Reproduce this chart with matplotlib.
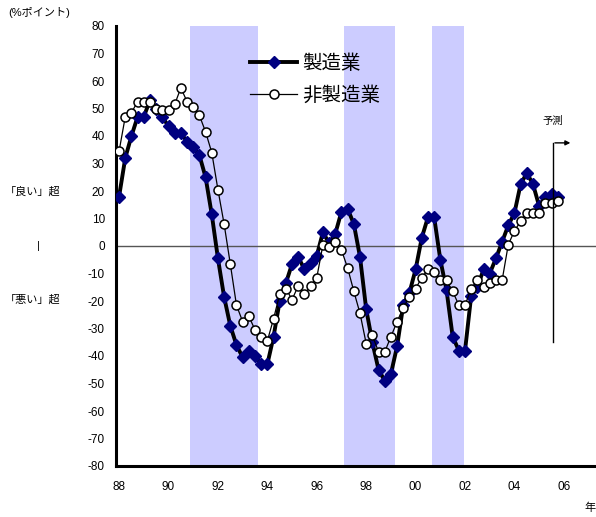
import matplotlib
matplotlib.use("Agg")
import matplotlib.pyplot as plt
import numpy as np

plt.rcParams['font.family'] = ['Liberation Sans', 'Noto Sans CJK JP', 'DejaVu Sans']
plt.rcParams['axes.unicode_minus'] = False

# Quarterly DI, 1988 Q1 onwards
manufacturing = [18, 32, 40, 47, 47, 53, 50, 47, 43.5, 41, 41, 38, 36, 33, 25, 11.5,
                 -4.5, -18.5, -29, -36, -40.5, -38, -40, -43, -43, -33, -20, -13.5,
                 -6.5, -4, -8.5, -6, -3.5, 5, 1, 4.5, 12.5, 13.5, 8, -4,
                 -23, -35, -45, -49, -46.5, -36.5, -21.5, -17, -8.5, 3, 10.5, 10.5,
                 -5, -16, -33, -38, -38, -18, -15, -8.5, -10, -4.5, 1.5, 7.5,
                 12, 22.5, 26.5, 22.5, 14.5, 18, 19, 18]
non_manufacturing = [34.5, 47, 48.5, 52.5, 52.5, 52.5, 50, 49.5, 49.5, 51.5, 57.5, 52.5,
                     50.5, 47.5, 41.5, 34, 20.5, 8, -6.5, -21.5, -27.5, -25.5, -30.5, -33,
                     -34.5, -26.5, -17.5, -15.5, -19.5, -14.5, -17.5, -14.5, -11.5, 0.5, -0.5, 1.5,
                     -1.5, -8, -16.5, -24.5, -35.5, -32.5, -38.5, -38.5, -33, -27.5, -22.5, -18.5,
                     -15.5, -11.5, -8.5, -9.5, -12.5, -12.5, -16.5, -21.5, -21.5, -15.5, -12.5, -15,
                     -13.5, -12.5, -12.5, 0.5, 5.5, 9, 12, 12, 12, 15.5, 15.5, 16.5]
series_names = ['製造業', '非製造業']
year_labels = ['88', '90', '92', '94', '96', '98', '00', '02', '04', '06']
recessions = [(11.5, 22.45), (36.4, 44.65), (50.6, 55.8)]  # quarter-index spans
forecast_at = 70.2

q = np.arange(len(manufacturing))

fig = plt.figure(figsize=(5.96, 5.17), dpi=100)
ax = fig.add_axes([116/596, 1-466/517, 1-116/596, 440/517])

for a, b in recessions:
    ax.axvspan(a, b, color='#CCCCFF', lw=0, zorder=0)

ax.axhline(0, color='#555555', lw=1, zorder=1)

ax.plot(q, manufacturing, color='black', lw=2.8, marker='D', markersize=6.5,
        markerfacecolor='#000080', markeredgecolor='#000080', label=series_names[0], zorder=3)
ax.plot(q, non_manufacturing, color='black', lw=0.9, marker='o', markersize=6.5,
        markerfacecolor='white', markeredgecolor='black', markeredgewidth=1.1,
        label=series_names[1], zorder=4)

ax.set_xlim(-0.5, 77.2)
ax.set_ylim(-80, 80)
ax.set_yticks(np.arange(-80, 81, 10))
ax.set_yticklabels([str(v) for v in range(-80, 81, 10)], fontsize=8.5)
ax.set_xticks(np.arange(0, 8*len(year_labels), 8))
ax.set_xticklabels(year_labels, fontsize=8.5)
ax.tick_params(axis='both', length=0)
ax.tick_params(axis='x', pad=11)
ax.tick_params(axis='y', pad=8)
for s in ['top', 'right']:
    ax.spines[s].set_visible(False)
for s in ['left', 'bottom']:
    ax.spines[s].set_linewidth(2.2)
ax.patch.set_visible(False)

# forecast marker
ax.annotate('', xy=(forecast_at + 3.3, 37.5), xytext=(forecast_at - 0.1, 37.5),
            arrowprops=dict(arrowstyle='-|>', color='black', lw=1, mutation_scale=7))
ax.plot([forecast_at, forecast_at], [37.5, -35], color='black', lw=1, zorder=5)
ax.text(forecast_at, 45.5, '予測', ha='center', va='center', fontsize=7.5)

leg = ax.legend(loc='upper left', bbox_to_anchor=(0.28, 0.935), frameon=False,
                fontsize=14, handlelength=2.4, handletextpad=0.25, labelspacing=0.65,
                borderpad=0, borderaxespad=0)

fig.text(8/596, 1-13/517, '(%ポイント)', fontsize=8, ha='left', va='center')
fig.text(5/596, 1-192/517, '「良い」超', fontsize=8, ha='left', va='center')
fig.text(38/596, 1-246/517, '|', fontsize=8, ha='center', va='center')
fig.text(5/596, 1-300/517, '「悪い」超', fontsize=8, ha='left', va='center')
fig.text(584/596, 1-508/517, '年', fontsize=8, ha='left', va='center')

fig.savefig('out.png', dpi=100)
